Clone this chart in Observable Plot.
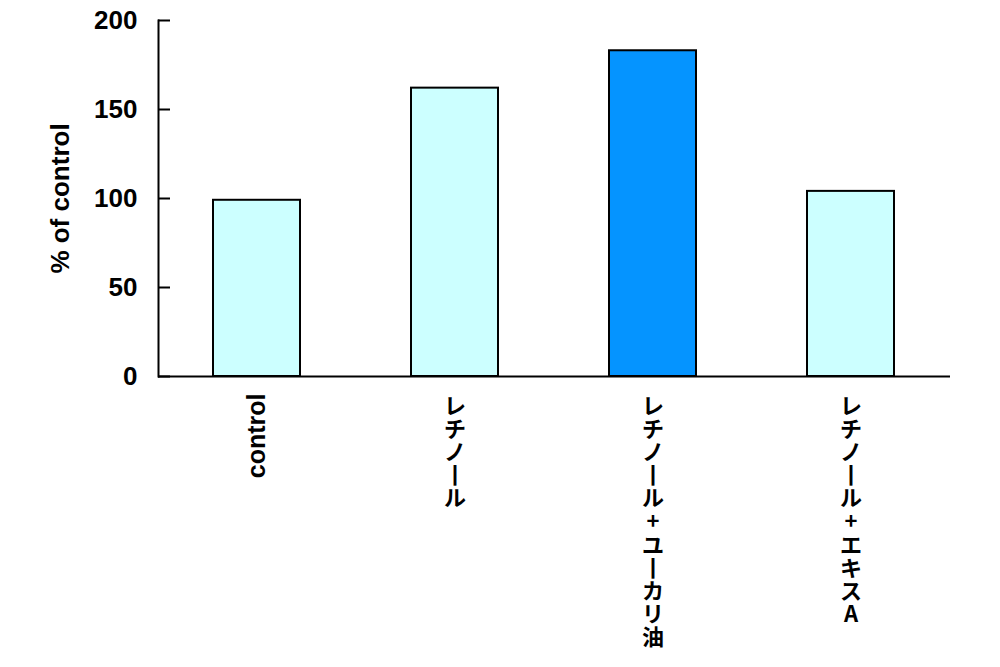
<!DOCTYPE html>
<html>
<head>
<meta charset="utf-8">
<script src="https://cdn.jsdelivr.net/npm/d3@7"></script>
<script src="https://cdn.jsdelivr.net/npm/@observablehq/plot@0.6"></script>
<style>
  html, body { margin: 0; padding: 0; background: #fff; }
</style>
</head>
<body>
<div id="chart"></div>
<script>
const categories = ["control", "レチノール", "レチノール+ユーカリ油", "レチノール+エキスA"];
const values = [99, 162, 183, 104];
const barColors = ["#ccffff", "#ccffff", "#0594ff", "#ccffff"];
const yTicks = [0, 50, 100, 150, 200];
const yLabel = "% of control";

const data = categories.map((name, i) => ({ name, value: values[i] }));
const isLatin = s => /^[A-Za-z ]+$/.test(s);
const latinLabels = data.filter(d => isLatin(d.name));
const jpLabels = data.filter(d => !isLatin(d.name));
// stack characters vertically (tategaki); the long-vowel mark turns vertical
const verticalText = s => Array.from(s).map(c => (c === "ー" ? "丨" : c)).join("\n");

const svg = Plot.plot({
  width: 1000,
  height: 667,
  marginLeft: 158,
  marginRight: 50,
  marginTop: 20,
  marginBottom: 291,
  style: { fontFamily: "'Liberation Sans', Arial, sans-serif", fontWeight: "bold", fontSize: "26px", color: "#000", background: "#fff" },
  x: { domain: categories, paddingInner: 0.56, paddingOuter: 0.28, axis: null },
  y: { domain: [0, 200], axis: null },
  color: { domain: categories, range: barColors },
  marks: [
    Plot.barY(data, { x: "name", y: "value", fill: "name", stroke: "#000", strokeWidth: 2 }),
    Plot.ruleY([0], { stroke: "#000", strokeWidth: 2 }),
    Plot.frame({ anchor: "left", stroke: "#000", strokeWidth: 2 }),
    Plot.axisY({ ticks: yTicks, tickSize: -12, tickPadding: 33, strokeWidth: 2, label: null, fontSize: 26, tickFormat: d => String(d) }),
    Plot.text([yLabel], { frameAnchor: "left", dx: -98, rotate: -90, textAnchor: "middle", text: d => d, fontSize: 26, fontWeight: "bold" }),
    Plot.text(latinLabels, { x: "name", frameAnchor: "bottom", dx: 8, dy: 17, rotate: -90, textAnchor: "end", text: "name", fontSize: 25, fontWeight: "bold" }),
    Plot.text(jpLabels, { x: "name", frameAnchor: "bottom", dy: 21, lineAnchor: "top", textAnchor: "middle", lineHeight: 1.05, text: d => verticalText(d.name), fontSize: 22, fontWeight: "bold", fontFamily: "'Noto Sans CJK JP', sans-serif" })
  ]
});

document.getElementById("chart").appendChild(svg);
</script>
</body>
</html>
